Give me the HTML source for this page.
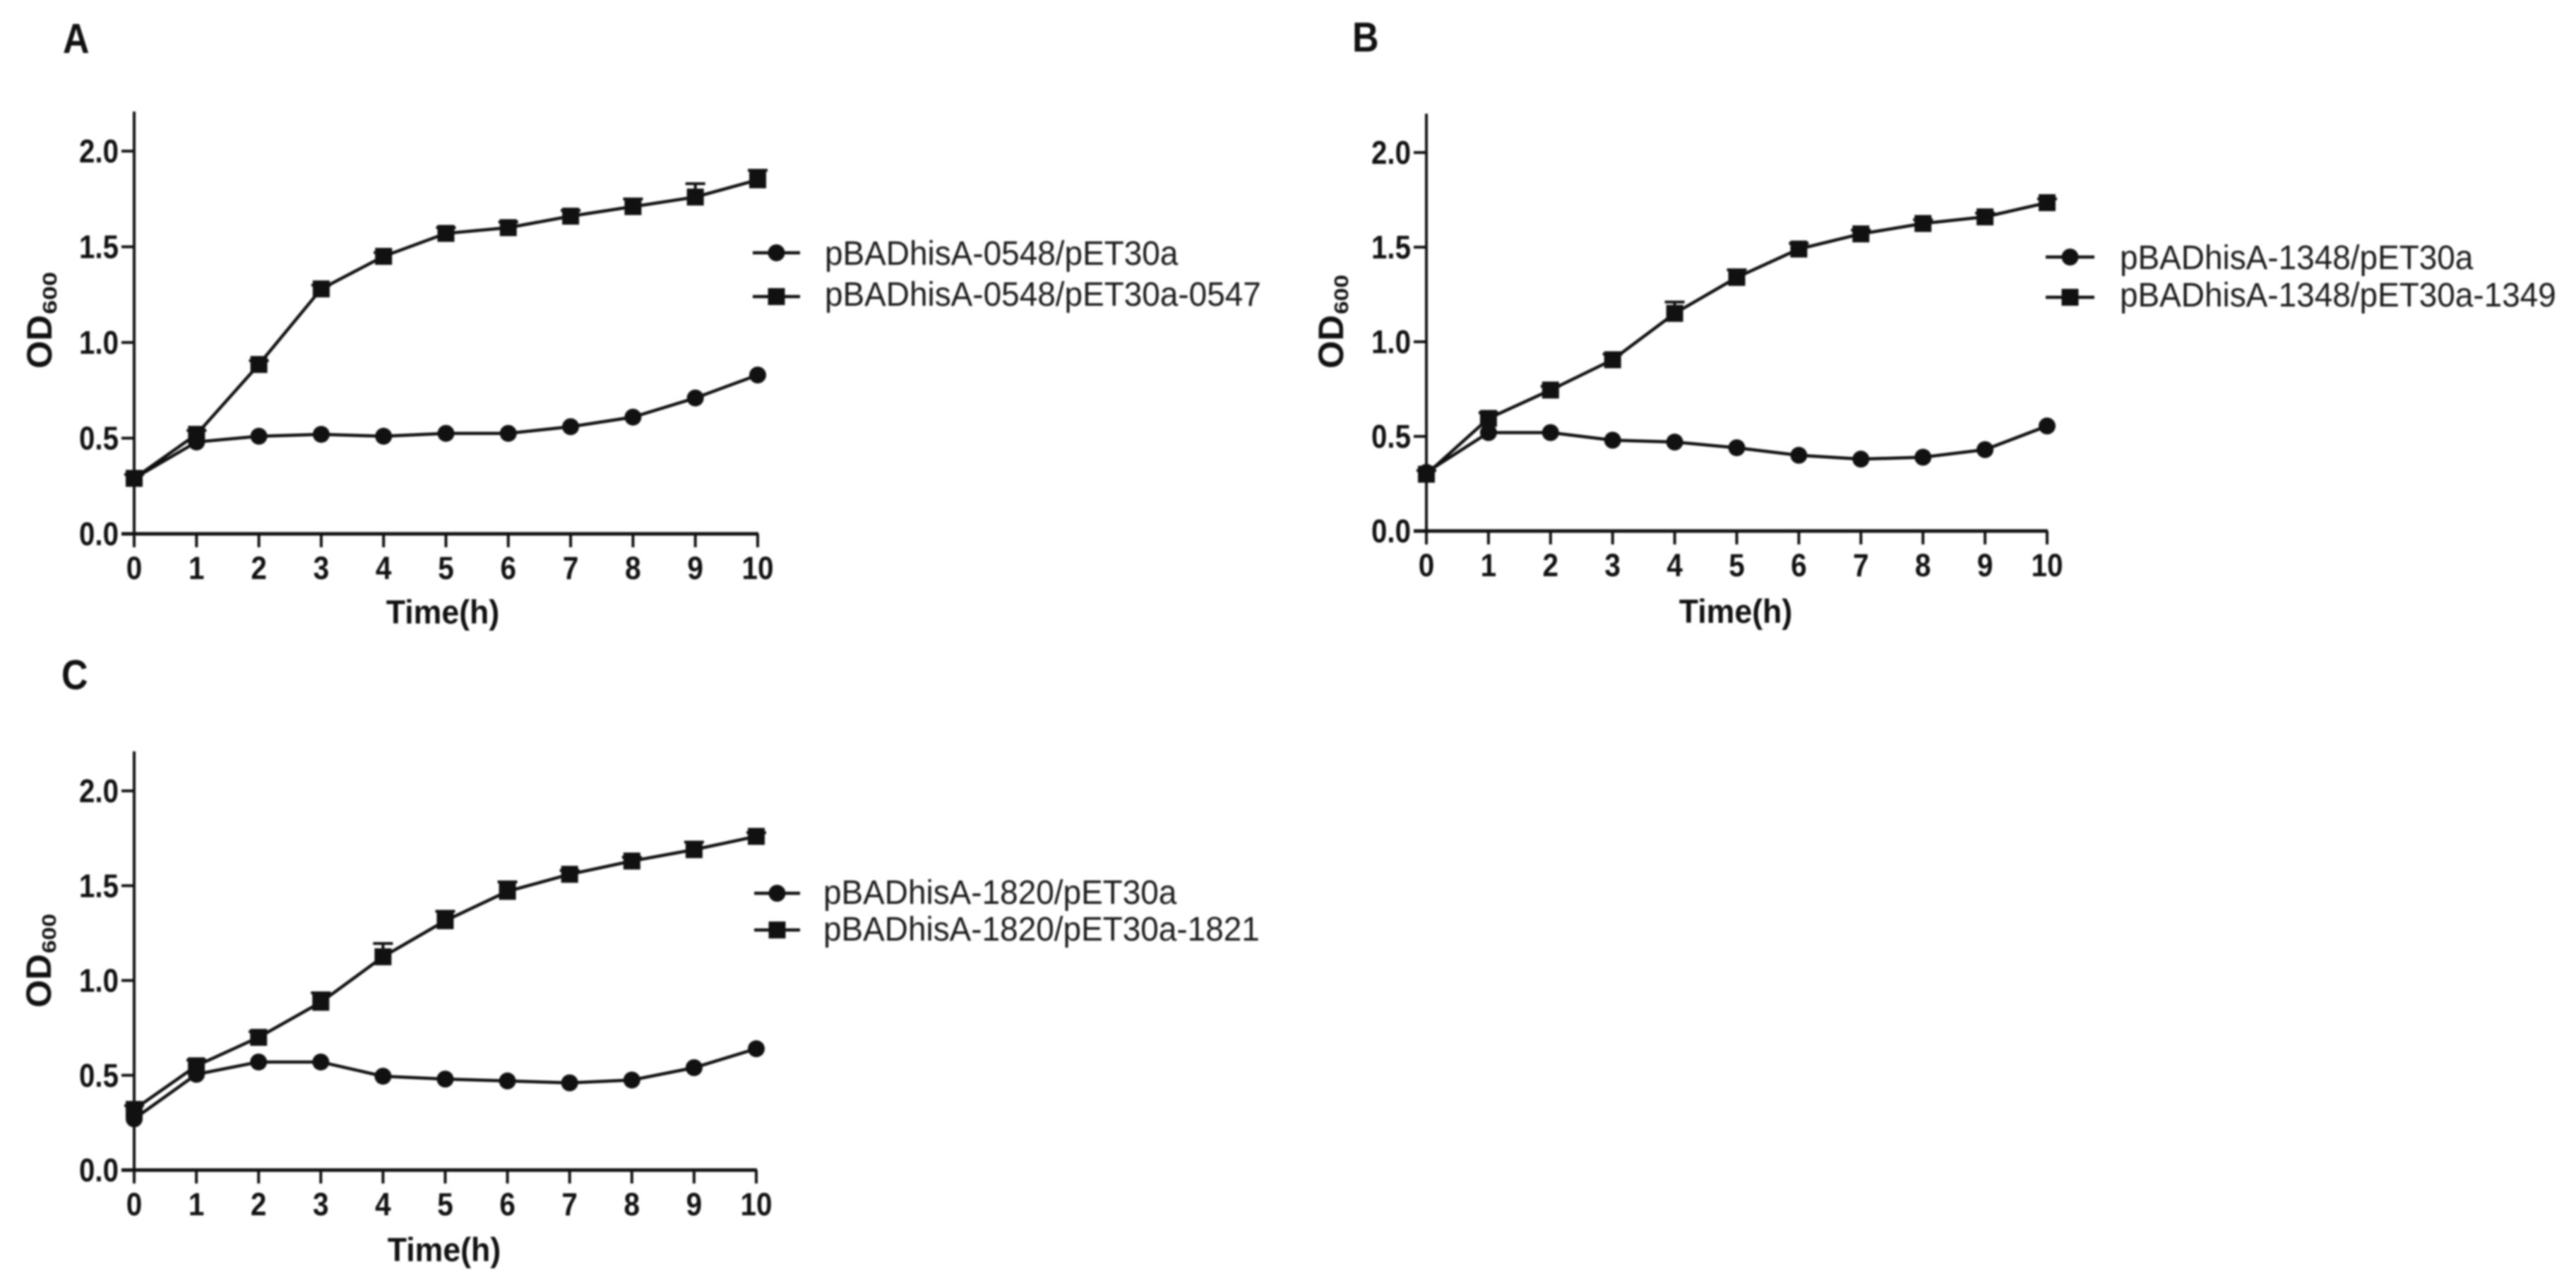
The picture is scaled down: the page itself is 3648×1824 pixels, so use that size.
<!DOCTYPE html>
<html lang="en">
<head>
<meta charset="utf-8">
<title>OD600 growth curves</title>
<style>
html,body{margin:0;padding:0;background:#fff;width:3648px;height:1824px;overflow:hidden}
svg{display:block;filter:blur(1.3px)}
text{font-family:"Liberation Sans",Arial,sans-serif;fill:#111}
.panel{font-weight:700;font-size:52px}
.title{font-weight:700;font-size:47px}
.leg{font-size:48px;fill:#1c1c1c}
</style>
</head>
<body>
<svg id="figure" xmlns="http://www.w3.org/2000/svg" width="3648" height="1824" viewBox="0 0 3648 1824">
  <rect width="3648" height="1824" fill="#fff"/>

  <g id="chart-a">
    <text class="panel" transform="translate(89,75) scale(1,1.15)">A</text>
    <text class="title" text-anchor="middle" transform="translate(627,883) scale(.95,1)">Time(h)</text>
    <g transform="translate(73,522) rotate(-90)">
      <text font-weight="700" font-size="50" textLength="76" lengthAdjust="spacingAndGlyphs">OD</text>
      <text x="77" y="7" font-weight="700" font-size="28" textLength="60" lengthAdjust="spacingAndGlyphs">600</text>
    </g>
    <text class="leg" transform="translate(1168,375) scale(.957,1)">pBADhisA-0548/pET30a</text>
    <text class="leg" transform="translate(1168,433) scale(.957,1)">pBADhisA-0548/pET30a-0547</text>
  </g>

  <g id="chart-b">
    <text class="panel" transform="translate(1915,73) scale(1,1.15)">B</text>
    <text class="title" text-anchor="middle" transform="translate(2458,882) scale(.95,1)">Time(h)</text>
    <g transform="translate(1902,522) rotate(-90)">
      <text font-weight="700" font-size="50" textLength="76" lengthAdjust="spacingAndGlyphs">OD</text>
      <text x="77" y="7" font-weight="700" font-size="28" textLength="56" lengthAdjust="spacingAndGlyphs">600</text>
    </g>
    <text class="leg" transform="translate(3002,381) scale(.957,1)">pBADhisA-1348/pET30a</text>
    <text class="leg" transform="translate(3002,434) scale(.957,1)">pBADhisA-1348/pET30a-1349</text>
  </g>

  <g id="chart-c">
    <text class="panel" transform="translate(87,976) scale(1,1.15)">C</text>
    <text class="title" text-anchor="middle" transform="translate(629,1786) scale(.95,1)">Time(h)</text>
    <g transform="translate(72,1427) rotate(-90)">
      <text font-weight="700" font-size="50" textLength="76" lengthAdjust="spacingAndGlyphs">OD</text>
      <text x="77" y="7" font-weight="700" font-size="28" textLength="56" lengthAdjust="spacingAndGlyphs">600</text>
    </g>
    <text class="leg" transform="translate(1166,1280) scale(.957,1)">pBADhisA-1820/pET30a</text>
    <text class="leg" transform="translate(1166,1332) scale(.957,1)">pBADhisA-1820/pET30a-1821</text>
  </g>
</svg>

<script>
const hours = [0, 1, 2, 3, 4, 5, 6, 7, 8, 9, 10];
const xTickLabels = ['0', '1', '2', '3', '4', '5', '6', '7', '8', '9', '10'];
const yTickValues = [0, 0.5, 1, 1.5, 2];
const yTickLabels = ['0.0', '0.5', '1.0', '1.5', '2.0'];

const controlA = [0.29, 0.48, 0.51, 0.52, 0.51, 0.525, 0.525, 0.56, 0.61, 0.71, 0.83];
const coexprA = [0.29, 0.52, 0.885, 1.28, 1.45, 1.57, 1.60, 1.66, 1.71, 1.76, 1.85];
const errorA = [0.02, 0.02, 0.02, 0.02, 0.02, 0.03, 0.03, 0.03, 0.04, 0.07, 0.05];

const controlB = [0.31, 0.52, 0.52, 0.48, 0.47, 0.44, 0.40, 0.38, 0.39, 0.43, 0.555];
const coexprB = [0.30, 0.595, 0.745, 0.905, 1.15, 1.34, 1.49, 1.57, 1.625, 1.66, 1.735];
const errorB = [0.02, 0.03, 0.02, 0.03, 0.06, 0.04, 0.03, 0.02, 0.02, 0.02, 0.02];

const controlC = [0.27, 0.505, 0.57, 0.57, 0.495, 0.48, 0.47, 0.46, 0.475, 0.54, 0.64];
const coexprC = [0.32, 0.55, 0.70, 0.885, 1.125, 1.315, 1.47, 1.56, 1.63, 1.69, 1.76];
const errorC = [0.02, 0.03, 0.03, 0.05, 0.07, 0.05, 0.05, 0.02, 0.02, 0.04, 0.02];

const SVG_NS = 'http://www.w3.org/2000/svg';
const INK = '#111';

function make(tag, attrs, parent) {
  const el = document.createElementNS(SVG_NS, tag);
  for (const k in attrs) el.setAttribute(k, attrs[k]);
  parent.appendChild(el);
  return el;
}

function drawChart(id, x0, x10, y0, y2, yTop, legX1, legX2, legY1, legY2, control, coexpr, err) {
  const root = document.getElementById(id);
  const sx = h => x0 + (x10 - x0) * h / 10;
  const sy = v => y0 + (y2 - y0) * v / 2;

  const yAxis = make('line', {x1: x0, x2: x0, y1: yTop, y2: y0 + 19, stroke: INK, 'stroke-width': 4}, root);
  
  
  const xAxis = make('line', {x1: x0 - 18, x2: x10 + 1, y1: y0, y2: y0, stroke: INK, 'stroke-width': 5}, root);
  
  

  yTickValues.forEach((v, i) => {
    const tick = make('line', {x1: x0 - 18, x2: x0, y1: sy(v), y2: sy(v), stroke: INK, 'stroke-width': 4}, root);
    
    
    const lab = make('text', {'text-anchor': 'end', 'font-weight': 700, 'font-size': 46,
      transform: 'translate(' + (x0 - 22) + ',' + (sy(v) + 16) + ') scale(.875,1)'}, root);
    lab.textContent = yTickLabels[i];
    
    
  });

  hours.forEach((h, i) => {
    const tick = make('line', {x1: sx(h), x2: sx(h), y1: y0, y2: y0 + 19, stroke: INK, 'stroke-width': 4}, root);
    
    
    const lab = make('text', {'text-anchor': 'middle', 'font-weight': 700, 'font-size': 45,
      transform: 'translate(' + sx(h) + ',' + (y0 + 64) + ') scale(.9,1)'}, root);
    lab.textContent = xTickLabels[i];
    
    
  });

  const controlPts = hours.map((h, i) => sx(h) + ',' + sy(control[i])).join(' ');
  const controlLine = make('polyline', {points: controlPts, fill: 'none', stroke: INK, 'stroke-width': 4.5}, root);
  
  
  hours.forEach((h, i) => {
    const pt = make('circle', {cx: sx(h), cy: sy(control[i]), r: 12, fill: INK}, root);
    
    
  });

  const coexprPts = hours.map((h, i) => sx(h) + ',' + sy(coexpr[i])).join(' ');
  const coexprLine = make('polyline', {points: coexprPts, fill: 'none', stroke: INK, 'stroke-width': 4.5}, root);
  
  
  hours.forEach((h, i) => {
    const cx = sx(h);
    const cy = sy(coexpr[i]);
    const top = sy(coexpr[i] + err[i]);
    const bar = make('path', {d: 'M' + cx + ' ' + cy + 'V' + top + 'M' + (cx - 14) + ' ' + top + 'H' + (cx + 14),
      fill: 'none', stroke: INK, 'stroke-width': 4}, root);
    
    
    const pt = make('rect', {x: cx - 12, y: cy - 12, width: 24, height: 24, fill: INK}, root);
    
    
  });

  const legMid = (legX1 + legX2) / 2;
  const legLine1 = make('line', {x1: legX1, x2: legX2, y1: legY1, y2: legY1, stroke: INK, 'stroke-width': 4.5}, root);
  
  
  const legMark1 = make('circle', {cx: legMid, cy: legY1, r: 12, fill: INK}, root);
  
  
  const legLine2 = make('line', {x1: legX1, x2: legX2, y1: legY2, y2: legY2, stroke: INK, 'stroke-width': 4.5}, root);
  
  
  const legMark2 = make('rect', {x: legMid - 12, y: legY2 - 12, width: 24, height: 24, fill: INK}, root);
  
  
}

drawChart('chart-a', 190, 1073, 756, 214, 158, 1066, 1133, 358, 420, controlA, coexprA, errorA);
drawChart('chart-b', 2020, 2899, 752, 216, 161, 2897, 2966, 364, 421, controlB, coexprB, errorB);
drawChart('chart-c', 190, 1071, 1657, 1120, 1064, 1068, 1133, 1265, 1317, controlC, coexprC, errorC);
</script>
</body>
</html>
